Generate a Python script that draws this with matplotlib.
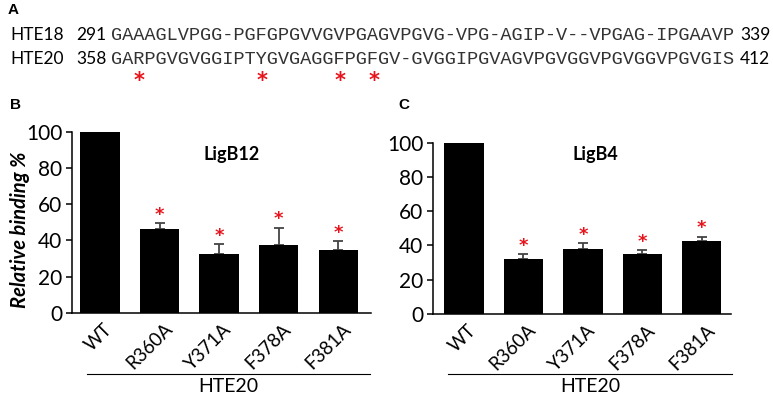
import matplotlib
matplotlib.use("Agg")
import matplotlib.pyplot as plt
import matplotlib.transforms as mtransforms
from matplotlib.lines import Line2D
import numpy as np

plt.rcParams['font.family'] = ['Lato', 'DejaVu Sans']

# panel A : alignment
seq_names = ["HTE18", "HTE20"]
seq_start = [291, 358]
seq_end = [339, 412]
sequences = ["GAAAGLVPGG-PGFGPGVVGVPGAGVPGVG-VPG-AGIP-V--VPGAG-IPGAAVP",
             "GARPGVGVGGIPTYGVGAGGFPGFGV-GVGGIPGVAGVPGVGGVPGVGGVPGVGIS"]

# panels B and C : binding
mutants = ["WT", "R360A", "Y371A", "F378A", "F381A"]
ligb12_vals = [100, 46.1, 32.8, 37.4, 34.5]
ligb12_err = [0, 3.3, 5.2, 9.6, 5.1]
ligb4_vals = [100, 31.9, 37.9, 35.0, 42.8]
ligb4_err = [0, 3.1, 3.5, 2.1, 2.3]
signif = [False, True, True, True, True]

W, H = 773, 400
fig = plt.figure(figsize=(W / 100, H / 100), dpi=100)


def fx(px):
    return px / W


def fy(py):
    return 1 - py / H


# ---- panel A
fig.text(fx(8), fy(10), "A", fontsize=11, fontweight="bold",
         family="Liberation Sans", va="center")
seq_x0 = 111
char_w = 626 / 56
baselines = [40, 64]
for name, s0, s1, seq, yb in zip(seq_names, seq_start, seq_end, sequences, baselines):
    fig.text(fx(10), fy(yb), name, fontsize=12.5, va="baseline")
    fig.text(fx(76), fy(yb), str(s0), fontsize=12.5, va="baseline")
    fig.text(fx(seq_x0), fy(yb), seq, fontsize=13.4, family="Liberation Mono",
             color="#333333", va="baseline")
    fig.text(fx(740), fy(yb), str(s1), fontsize=12.5, va="baseline")

# red stars under the mutated residues of HTE20
for m in mutants[1:]:
    num = int(m[1:-1])
    count = seq_start[1] - 1
    for idx, c in enumerate(sequences[1]):
        if c != "-":
            count += 1
        if count == num and c != "-":
            break
    fig.text(fx(seq_x0 + (idx + 0.5) * char_w), fy(81), "*", color="#e8141c",
             fontsize=15, fontweight="bold", ha="center", va="center",
             family="DejaVu Sans")


def bar_panel(ax, vals, errs, title, title_xy, xlim, line_y):
    x = np.arange(len(mutants))
    ax.bar(x, vals, width=0.66, color="black", zorder=2)
    lower = np.zeros(len(errs))
    ax.errorbar(x, vals, yerr=[lower, errs], fmt="none", ecolor="#444444",
                elinewidth=1.3, capsize=3.5, capthick=1.3, zorder=1)
    for xi, v, e, s in zip(x, vals, errs, signif):
        if s:
            ax.annotate("*", xy=(xi, v + e), xytext=(0, 6), textcoords="offset points",
                        ha="center", va="center", color="#e8141c", fontsize=13,
                        fontweight="bold", family="DejaVu Sans")
    ax.set_xlim(*xlim)
    ax.set_ylim(0, 100)
    ax.set_yticks([0, 20, 40, 60, 80, 100])
    ax.spines["top"].set_visible(False)
    ax.spines["right"].set_visible(False)
    for sp in ["left", "bottom"]:
        ax.spines[sp].set_linewidth(1.1)
    ax.tick_params(axis="y", direction="out", length=4, width=1.1, labelsize=15, pad=3)
    ax.set_xticks(x)
    ax.set_xticklabels(mutants, rotation=45, ha="right", va="center",
                       rotation_mode="anchor", fontsize=13.5)
    ax.tick_params(axis="x", length=0, pad=0)
    off = mtransforms.ScaledTranslation(7 / 72, -9.5 / 72, fig.dpi_scale_trans)
    for lbl in ax.get_xticklabels():
        lbl.set_transform(lbl.get_transform() + off)
    fig.text(fx(title_xy[0]), fy(title_xy[1]), title, fontsize=13,
             fontweight="bold", ha="center", va="center")
    fig.add_artist(Line2D([fx(line_y[0]), fx(line_y[1])], [fy(374), fy(374)],
                          color="black", lw=0.8))
    fig.text(fx((line_y[0] + line_y[1]) / 2), fy(387), "HTE20", fontsize=14,
             ha="center", va="center")


axB = fig.add_axes([fx(72), fy(313), (371 - 72) / W, (313 - 131.7) / H])
bar_panel(axB, ligb12_vals, ligb12_err, "LigB12", (232, 155),
          (-0.47, 4.55), (87, 370))
axC = fig.add_axes([fx(433), fy(314), (731 - 433) / W, (314 - 142.7) / H])
bar_panel(axC, ligb4_vals, ligb4_err, "LigB4", (595, 155),
          (-0.52, 4.49), (448, 732))

fig.text(fx(10), fy(105), "B", fontsize=11, fontweight="bold",
         family="Liberation Sans", va="center")
fig.text(fx(398), fy(105), "C", fontsize=11, fontweight="bold",
         family="Liberation Sans", va="center")
fig.text(fx(20), fy(230), "Relative binding %", rotation=90, fontsize=14.5,
         fontweight="bold", style="italic", ha="center", va="center")

fig.savefig("out.png", dpi=100)
